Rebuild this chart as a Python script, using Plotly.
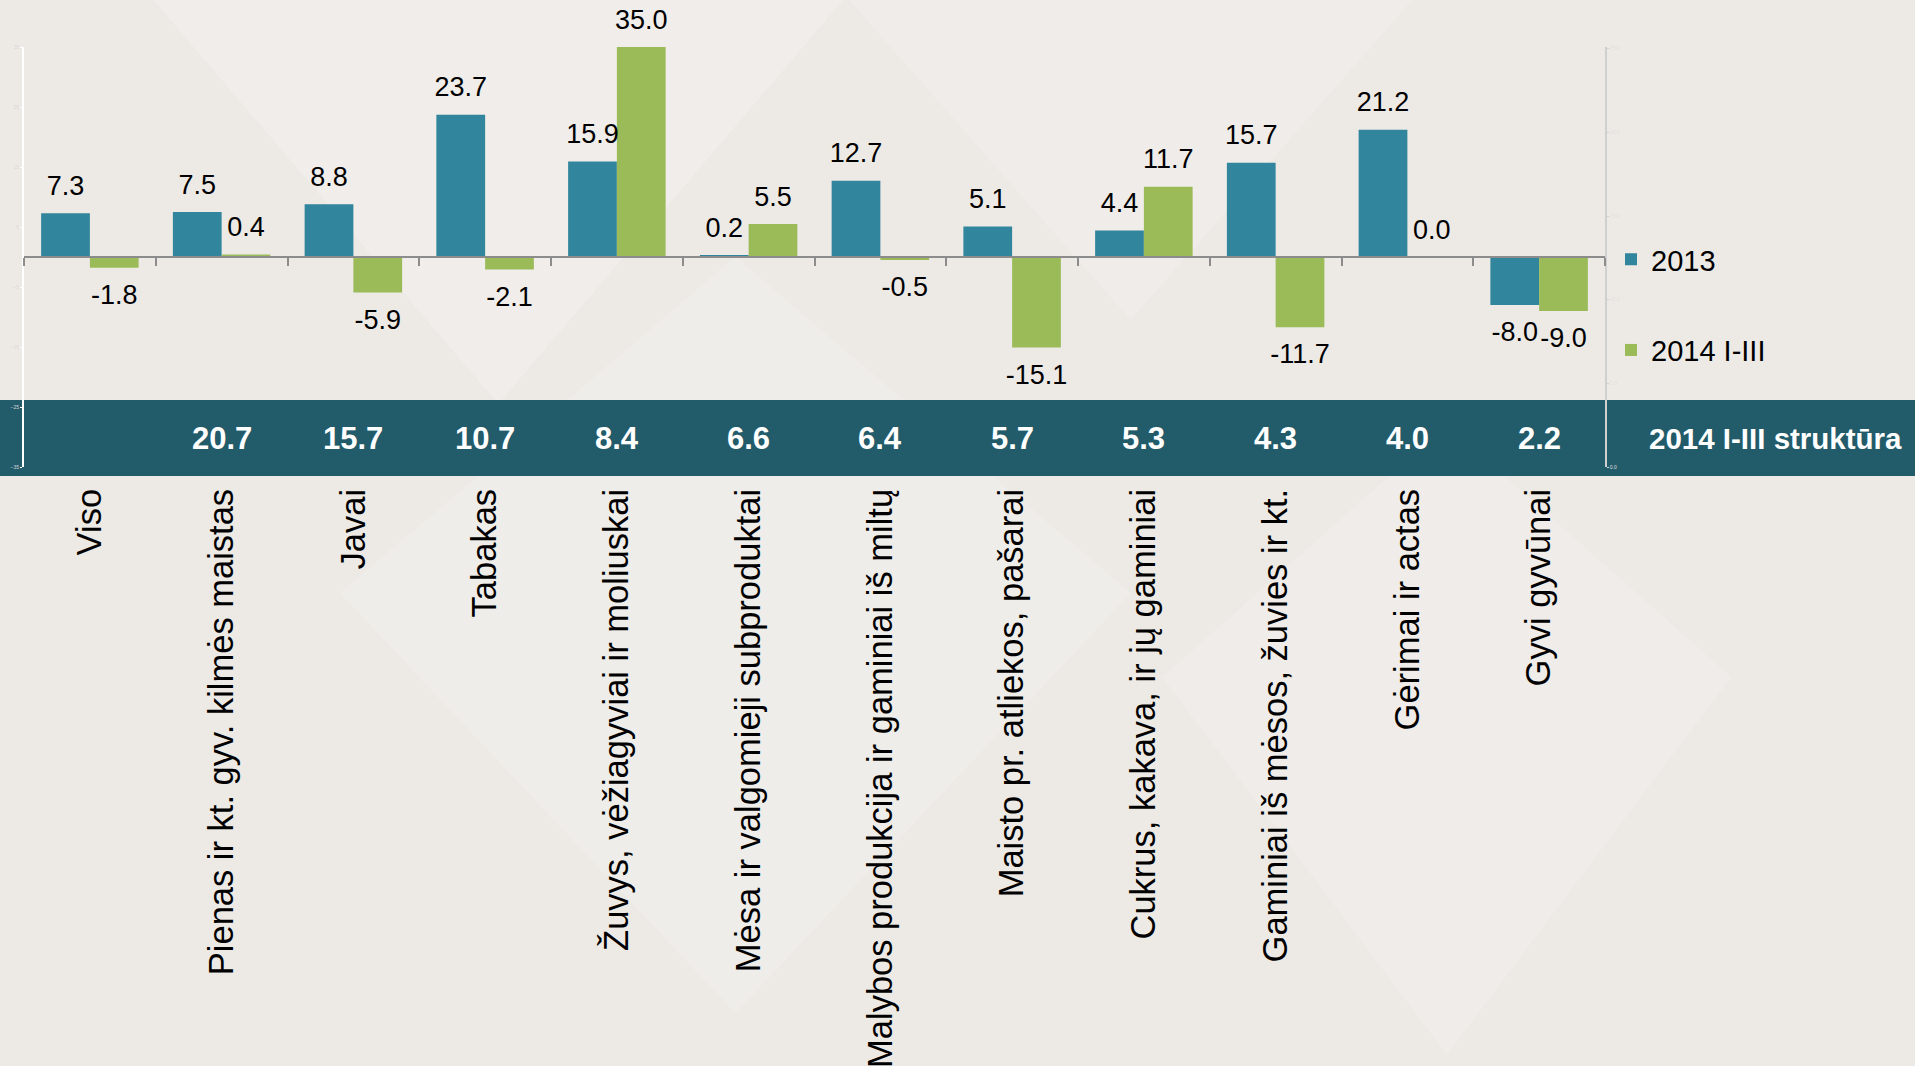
import plotly.graph_objects as go

categories = [
    "Viso",
    "Pienas ir kt. gyv. kilmės maistas",
    "Javai",
    "Tabakas",
    "Žuvys, vėžiagyviai ir moliuskai",
    "Mėsa ir valgomieji subproduktai",
    "Malybos produkcija ir gaminiai iš miltų",
    "Maisto pr. atliekos, pašarai",
    "Cukrus, kakava, ir jų gaminiai",
    "Gaminiai iš mėsos, žuvies ir kt.",
    "Gėrimai ir actas",
    "Gyvi gyvūnai",
]
values_2013 = [7.3, 7.5, 8.8, 23.7, 15.9, 0.2, 12.7, 5.1, 4.4, 15.7, 21.2, -8.0]
values_2014 = [-1.8, 0.4, -5.9, -2.1, 35.0, 5.5, -0.5, -15.1, 11.7, -11.7, 0.0, -9.0]
structure_2014 = [None, 20.7, 15.7, 10.7, 8.4, 6.6, 6.4, 5.7, 5.3, 4.3, 4.0, 2.2]
series_names = ["2013", "2014 I-III"]
structure_label = "2014 I-III struktūra"
left_ticks = [-35, -25, -15, -5, 5, 15, 25, 35]
right_ticks = [0, 5, 10, 15, 20, 25]

BLUE = "#31859C"
GREEN = "#9BBB59"
BAND = "#225B6A"
FONT = "Liberation Sans, Arial, sans-serif"

fig = go.Figure()

for name, vals, col, grp in [(series_names[0], values_2013, BLUE, "a"),
                              (series_names[1], values_2014, GREEN, "b")]:
    fig.add_trace(go.Bar(
        x=categories, y=vals, name=name, marker=dict(color=col, line=dict(width=0)),
        offsetgroup=grp, legendgroup=grp, hoverinfo="skip",
    ))

for vals, grp in [(values_2013, "a"), (values_2014, "b")]:
    fig.add_trace(go.Scatter(
        x=categories, y=vals, mode="markers+text",
        text=[f"{v:.1f}" for v in vals],
        textposition=["top center" if v >= 0 else "bottom center" for v in vals],
        textfont=dict(size=27, color="black", family=FONT),
        marker=dict(size=[17 if v >= 0 else 24 for v in vals], opacity=0),
        offsetgroup=grp, showlegend=False, hoverinfo="skip", cliponaxis=False,
    ))

# helper traces for the zero axis and right axis
fig.add_trace(go.Scatter(x=categories, y=[0] * len(categories), xaxis="x2", mode="none",
                         showlegend=False, hoverinfo="skip"))
fig.add_trace(go.Scatter(x=categories, y=[s if s is not None else 0 for s in structure_2014],
                         yaxis="y2", mode="none", showlegend=False, hoverinfo="skip"))

# subtle background diamonds (decoration)
for path, col in [
    ("M 0.08 1.12 L 0.30 0.15 L 0.52 1.12 Z", "rgba(255,255,255,0.16)"),
    ("M 0.52 1.12 L 0.70 0.35 L 0.88 1.12 Z", "rgba(255,255,255,0.12)"),
    ("M 0.20 -0.3 L 0.45 -1.3 L 0.70 -0.3 L 0.45 0.5 Z", "rgba(255,255,255,0.15)"),
    ("M 0.72 -0.5 L 0.90 -1.4 L 1.08 -0.5 L 0.90 0.1 Z", "rgba(255,255,255,0.12)"),
]:
    fig.add_shape(type="path", xref="paper", yref="paper", path=path, fillcolor=col,
                  line=dict(width=0), layer="below")

# structure band
fig.add_shape(type="rect", xref="paper", yref="paper", x0=-0.03, x1=1.22,
              y0=-0.0214, y1=0.1595, fillcolor=BAND, line=dict(width=0), layer="below")
for c, s in zip(categories, structure_2014):
    if s is None:
        continue
    fig.add_annotation(x=c, y=0.069, xref="x", yref="paper", text=f"<b>{s:.1f}</b>",
                       showarrow=False, xanchor="center", yanchor="middle",
                       font=dict(size=31, color="white", family=FONT))
fig.add_annotation(x=1.108, y=0.069, xref="paper", yref="paper", text=f"<b>{structure_label}</b>",
                   showarrow=False, xanchor="center", yanchor="middle",
                   font=dict(size=29.5, color="white", family=FONT))

fig.update_layout(
    width=1915, height=1066,
    margin=dict(l=24, r=310, t=47, b=599, pad=0),
    paper_bgcolor="#EDEAE6", plot_bgcolor="rgba(0,0,0,0)",
    barmode="group", bargap=0.26, bargroupgap=0, scattermode="group", scattergap=0.26,
    font=dict(family=FONT, color="black"),
    showlegend=True,
    legend=dict(x=1.0038, y=0.555, xanchor="left", yanchor="top", bgcolor="rgba(0,0,0,0)",
                font=dict(size=29, color="black", family=FONT), tracegroupgap=50),
    xaxis=dict(type="category", categoryarray=categories, range=[-0.5, len(categories) - 0.5],
               tickangle=-90, tickfont=dict(size=34.5, color="black", family=FONT),
               showline=False, ticks="", showgrid=False, zeroline=False,
               ticklabelstandoff=14, automargin=False),
    xaxis2=dict(type="category", categoryarray=categories, range=[-0.5, len(categories) - 0.5],
                overlaying="x", anchor="free", position=0.5, side="bottom",
                tickson="boundaries", ticks="outside", ticklen=8, tickwidth=2,
                tickcolor="#8C8C8C", showline=True, linecolor="#8C8C8C", linewidth=2,
                showticklabels=False, showgrid=False, zeroline=False),
    yaxis=dict(range=[-35, 35], tickvals=left_ticks, showline=True, linecolor="#FFFFFF",
               linewidth=2, ticks="outside", ticklen=2, tickcolor="#FFFFFF",
               tickfont=dict(size=5, color="#D8D8D8"), showgrid=False, zeroline=False,
               automargin=False),
    yaxis2=dict(range=[0, 25.1], tickvals=right_ticks, tickformat=".1f", overlaying="y",
                side="right", showline=True, linecolor="#D0D0D0", linewidth=1.5,
                ticks="outside", ticklen=2, tickcolor="#D0D0D0",
                tickfont=dict(size=5, color="#E0E0E0"), showgrid=False, zeroline=False,
                automargin=False),
)

fig.write_html("out.html", config={"displayModeBar": False},
               post_script="document.body.style.margin='0px';document.body.style.overflow='hidden';")
